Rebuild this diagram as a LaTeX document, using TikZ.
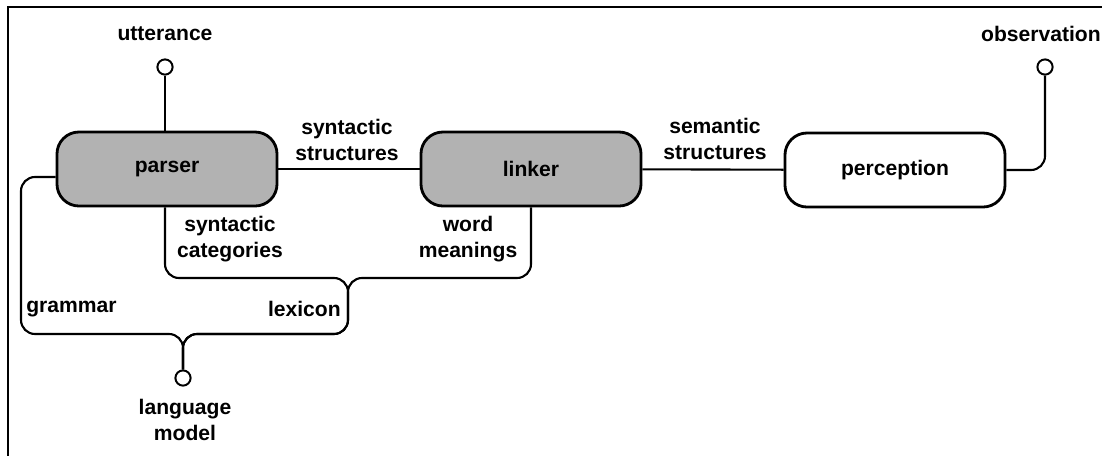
\documentclass[tikz,border=0pt]{standalone}
\usepackage{fontspec}
\setmainfont{Liberation Sans}
\usetikzlibrary{positioning}

\begin{document}
\begin{tikzpicture}[x=0.025cm, y=-0.025cm,
	font=\bfseries\fontsize{15}{18.5}\selectfont,
	module/.style={draw, line width=2pt, rounded corners=0.55cm, minimum width=5.5cm, minimum height=1.85cm},
	port/.style={draw, circle, fill=white, line width=1.4pt, minimum size=0.38cm, inner sep=0pt},
	lbl/.style={align=center, inner sep=0pt},
	wire/.style={line width=1.5pt, rounded corners=0.35cm}]
	%\draw [thin, help lines] (0,0) grid (1100,450);
	\useasboundingbox (0,0) rectangle (1102,455);
	\draw[line width=1.4pt] (8,470) -- (8,7) -- (1120,7);
	% modules
	\node[module, fill=black!30] (parser) at (167,169) {parser};
	\node[module, fill=black!30] (linker) at (531,169) {linker};
	\node[module] (perception) at (895,170) {perception};
	% ports
	\node[port] (utt) at (165,67) {};
	\node[port] (obs) at (1045,67) {};
	\node[port] (lm) at (183,378) {};
	% labels
	\node[lbl] (uttlbl) at (165,34) {utterance};
	\node[lbl, anchor=east] (obslbl) at (1101,34) {observation};
	\node[lbl] (lmlbl) at (185,420) {language\\model};
	\node[lbl] (synstr) at (347,140) {syntactic\\structures};
	\node[lbl] (semstr) at (715,139) {semantic\\structures};
	\node[lbl] (syncat) at (230,239) {syntactic\\categories};
	\node[lbl] (wordm) at (468,239) {word\\meanings};
	\node[lbl, anchor=west] (gram) at (26,309) {grammar};
	\node[lbl, anchor=east] (lex) at (341,309) {lexicon};
	% corners and forks
	\coordinate (catcorner) at (165,278);
	\coordinate (lexfork) at (348,278);
	\coordinate (lexbottom) at (348,334);
	\coordinate (gramtop) at (21,177);
	\coordinate (gramcorner) at (21,334);
	\coordinate (lmfork) at (183,334);
	% connections
	\draw[wire] (utt) -- (utt |- parser.north);
	\draw[wire] (parser) -- (linker);
	\draw[wire] (linker) -- (perception);
	\draw[wire] (obs) |- (perception.east);
	\draw[wire] (catcorner |- parser.south) -- (catcorner) -- (lexfork) -- (lexbottom) -- (lmfork) -- (lm);
	\draw[wire] (linker.south) -- (linker.south |- lexfork) -- (lexfork) -- (lexbottom) -- (lmfork) -- (lm);
	\draw[wire] (gramtop -| parser.west) -- (gramtop) -- (gramcorner) -- (lmfork) -- (lm);
\end{tikzpicture}
\end{document}
